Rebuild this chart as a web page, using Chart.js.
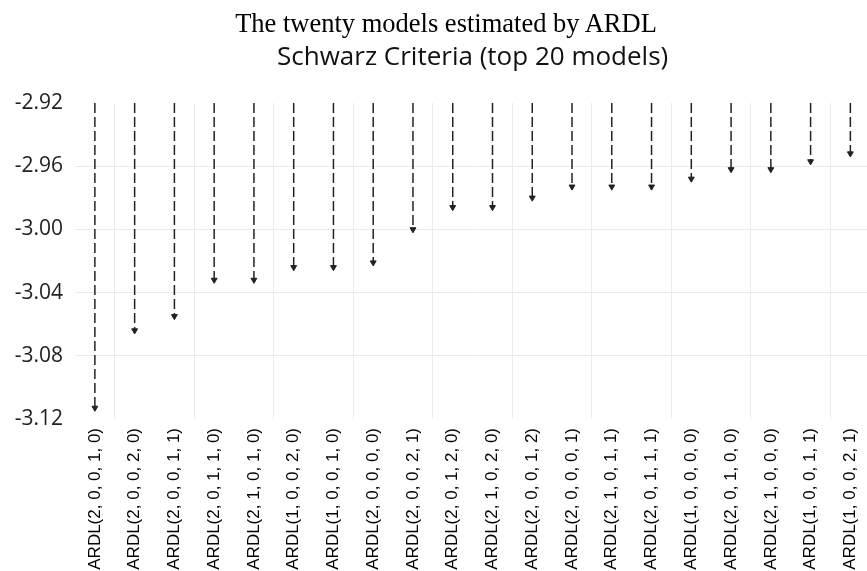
<!DOCTYPE html>
<html><head><meta charset="utf-8">
<script src="https://cdn.jsdelivr.net/npm/chart.js@4.4.1/dist/chart.umd.min.js"></script>
<style>
html,body{margin:0;padding:0;background:#fff;overflow:hidden;width:867px;height:571px;}
#wrap{position:relative;width:880px;height:571px;}
#t{position:absolute;left:0;top:9.5px;width:892px;text-align:center;font:26.5px/1 "Liberation Serif","Times New Roman",serif;color:#000;white-space:nowrap;}
canvas{position:absolute;left:0;top:0;}
</style></head><body>
<div id="wrap"><canvas id="c" width="880" height="571"></canvas><div id="t"></div></div>
<script>
const mainTitle = 'The twenty models estimated by ARDL';
const chartTitle = 'Schwarz Criteria (top 20 models)';
const models = [
  'ARDL(2, 0, 0, 1, 0)','ARDL(2, 0, 0, 2, 0)','ARDL(2, 0, 0, 1, 1)','ARDL(2, 0, 1, 1, 0)','ARDL(2, 1, 0, 1, 0)',
  'ARDL(1, 0, 0, 2, 0)','ARDL(1, 0, 0, 1, 0)','ARDL(2, 0, 0, 0, 0)','ARDL(2, 0, 0, 2, 1)','ARDL(2, 0, 1, 2, 0)',
  'ARDL(2, 1, 0, 2, 0)','ARDL(2, 0, 0, 1, 2)','ARDL(2, 0, 0, 0, 1)','ARDL(2, 1, 0, 1, 1)','ARDL(2, 0, 1, 1, 1)',
  'ARDL(1, 0, 0, 0, 0)','ARDL(2, 0, 1, 0, 0)','ARDL(2, 1, 0, 0, 0)','ARDL(1, 0, 0, 1, 1)','ARDL(1, 0, 0, 2, 1)'
];
const schwarz = [
  -3.113, -3.064, -3.055, -3.032, -3.032,
  -3.024, -3.024, -3.021, -3.000, -2.986,
  -2.986, -2.980, -2.973, -2.973, -2.973,
  -2.968, -2.962, -2.962, -2.957, -2.952
];
const yTicks = [-3.12, -3.08, -3.04, -3.00, -2.96, -2.92];
const arrowStart = -2.92;

document.getElementById('t').textContent = mainTitle;

const pts = [];
models.forEach((m, i) => {
  pts.push({x: m, y: arrowStart});
  pts.push({x: m, y: schwarz[i]});
  pts.push({x: m, y: null});
});

const yMin = Math.min(...yTicks), yMax = Math.max(...yTicks);
const gridCol = '#ebebeb', none = 'rgba(0,0,0,0)';

new Chart(document.getElementById('c'), {
  type: 'line',
  data: {
    labels: models,
    datasets: [{
      data: pts,
      borderColor: '#222',
      borderWidth: 1.5,
      borderDash: [10, 4],
      spanGaps: false,
      tension: 0,
      fill: false,
      pointStyle: 'triangle',
      pointRotation: 180,
      pointRadius: ctx => ctx.dataIndex % 3 === 1 ? 3.4 : 0,
      pointHoverRadius: ctx => ctx.dataIndex % 3 === 1 ? 3.4 : 0,
      pointBackgroundColor: '#222',
      pointBorderColor: '#222',
      pointBorderWidth: 1
    }]
  },
  options: {
    responsive: false,
    animation: false,
    devicePixelRatio: 1,
    layout: {padding: {top: 42, right: 1, left: 0, bottom: 0}},
    plugins: {
      legend: {display: false},
      tooltip: {enabled: false},
      title: {
        display: true,
        text: chartTitle,
        fullSize: false,
        color: '#111',
        font: {family: '"Open Sans", "Noto Sans", sans-serif', size: 26, weight: 'normal', lineHeight: 1.2},
        padding: {top: 0, bottom: 29.8}
      }
    },
    scales: {
      x: {
        type: 'category',
        offset: true,
        grid: {
          offset: true,
          drawTicks: false,
          color: ctx => (ctx.index % 2 === 1) ? gridCol : none,
          lineWidth: 1
        },
        border: {display: false},
        ticks: {
          autoSkip: false,
          minRotation: 90,
          maxRotation: 90,
          padding: 9,
          color: '#000',
          font: {family: '"Liberation Sans", Arial, sans-serif', size: 17}
        },
        afterFit: s => { s.height = 152; }
      },
      y: {
        min: yMin,
        max: yMax,
        grid: {
          drawTicks: false,
          color: ctx => (ctx.tick && (Math.abs(ctx.tick.value - yMin) < 1e-9 || Math.abs(ctx.tick.value - yMax) < 1e-9)) ? none : gridCol,
          lineWidth: 1
        },
        border: {display: false},
        afterBuildTicks: s => { s.ticks = yTicks.map(v => ({value: v})); },
        ticks: {
          padding: 12,
          color: '#222',
          font: {family: '"Open Sans", "Noto Sans", sans-serif', size: 21},
          callback: v => Number(v).toFixed(2)
        },
        afterFit: s => { s.width = 75; }
      }
    }
  }
});
</script>
</body></html>
